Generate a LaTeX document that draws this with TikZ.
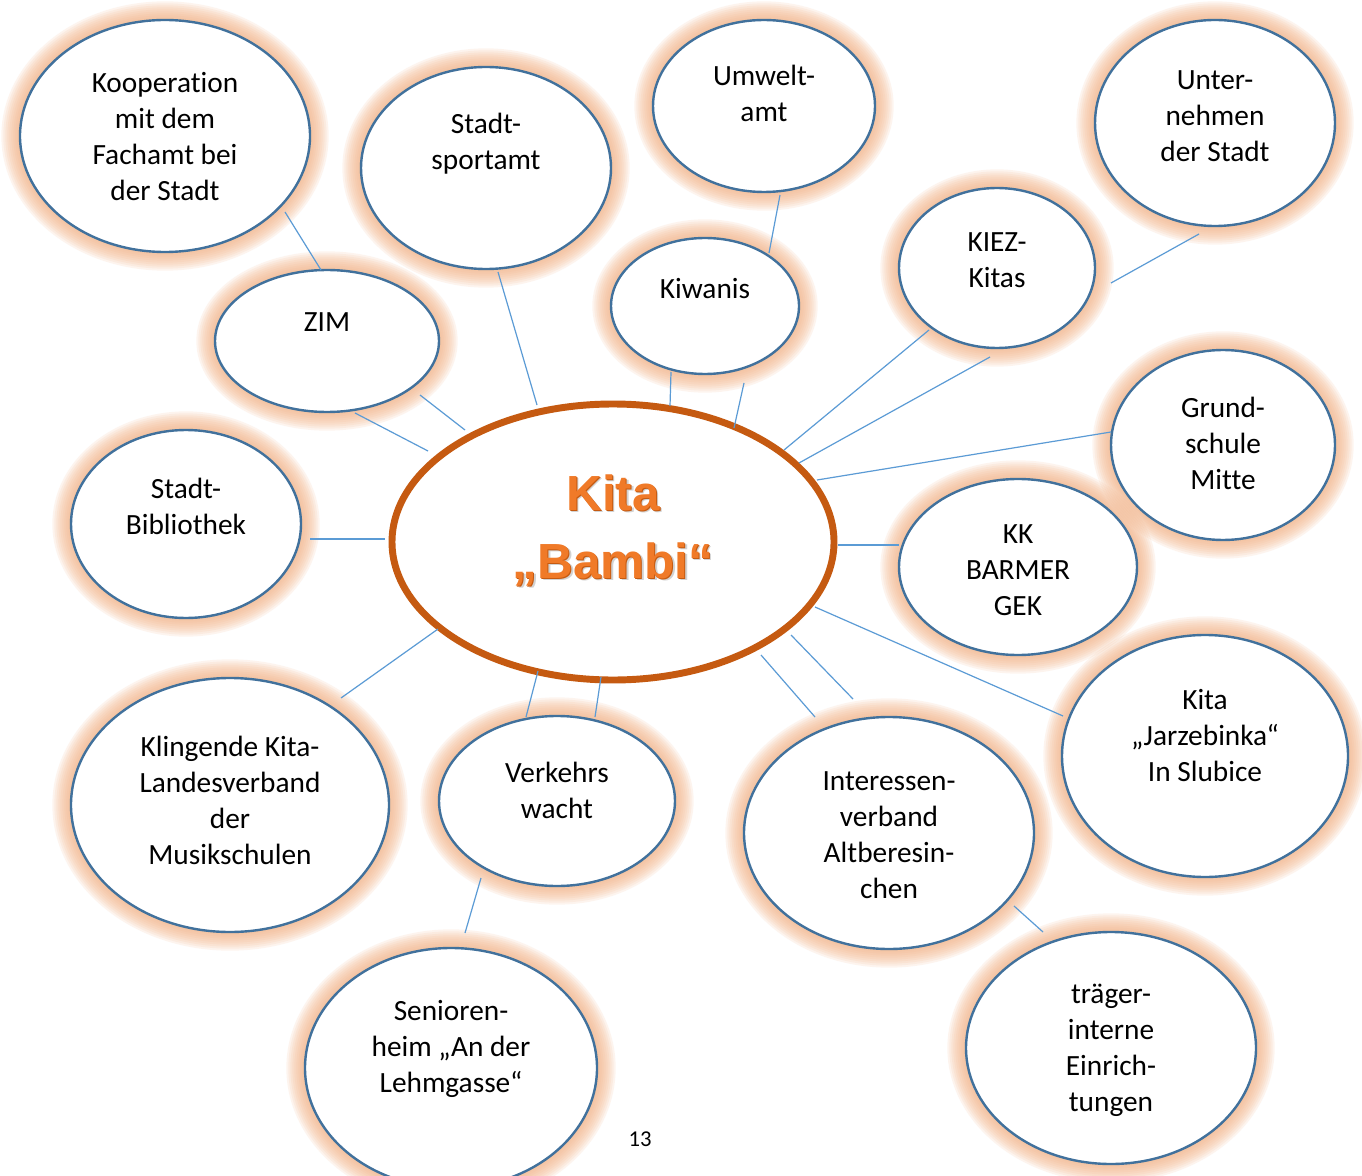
\documentclass[tikz,border=0pt]{standalone}
\usepackage{fontspec}
\setmainfont{Carlito}[Ligatures=CommonOff]
\newfontfamily\titlefont{Liberation Sans}
\usetikzlibrary{shapes.geometric}
\definecolor{bubborder}{HTML}{41719C}
\definecolor{glowc}{HTML}{F4B183}
\definecolor{linkc}{HTML}{5B9BD5}
\definecolor{hubc}{HTML}{C55A11}
\definecolor{titlec}{HTML}{F07A28}
\definecolor{titledark}{HTML}{C55A11}
\tikzset{
  bub/.style={ellipse, draw=bubborder, line width=1.8pt, fill=white, inner sep=0pt, outer sep=0pt},
  glow/.style={draw=glowc},
  txt/.style={align=center, font=\fontsize{22}{27}\selectfont, inner sep=0pt},
  link/.style={draw=linkc, line width=0.9pt},
}
\newcommand{\bubble}[7]{%
  \foreach \w in {28,25,22,19,16,13,10,7,4}{%
    \draw[glow, line width=\w pt, opacity=0.13] (#2,#3) ellipse [x radius=#4, y radius=#5];}
  \node[bub, minimum width=1.5*#4 pt, minimum height=1.5*#5 pt] (#1) at (#2,#3) {};
  \node[txt] (#1t) at (#2,#6) {#7};
}
\begin{document}
\begin{tikzpicture}[x=0.75pt,y=-0.75pt]
\useasboundingbox (0,0) rectangle (1362,1176);
\fill[white] (0,0) rectangle (1362,1176);

% bubbles
\bubble{koop}{165}{136}{145}{116}{137}{Kooperation\\mit dem\\Fachamt bei\\der Stadt}
\bubble{sport}{486}{168}{125}{101}{144}{Stadt-\\sportamt}
\bubble{umwelt}{764}{106}{111}{86}{93}{Umwelt-\\amt}
\bubble{unter}{1215}{123}{120}{103}{116}{Unter-\\nehmen\\der Stadt}
\bubble{zim}{327}{341}{112}{71}{322}{ZIM}
\bubble{kiwanis}{705}{306}{94}{68}{289}{Kiwanis}
\bubble{kiez}{997}{268}{98}{80}{260}{KIEZ-\\Kitas}
\bubble{grund}{1223}{445}{112}{95}{443}{Grund-\\schule\\Mitte}
\bubble{biblio}{186}{524}{115}{94}{506}{Stadt-\\Bibliothek}
\bubble{kk}{1018}{567}{119}{88}{570}{KK\\BARMER\\GEK}
\bubble{kling}{230}{805}{159}{127}{800}{Klingende Kita-\\Landesverband\\der\\Musikschulen}
\bubble{verkehr}{557}{801}{118}{85}{790}{Verkehrs\\wacht}
\bubble{interessen}{889}{833}{145}{116}{835}{Interessen-\\verband\\Altberesin-\\chen}
\bubble{jarz}{1205}{756}{143}{121}{736}{Kita\\„Jarzebinka“\\In Slubice}
\bubble{senior}{451}{1068}{146}{120}{1049}{Senioren-\\heim „An der\\Lehmgasse“}
\bubble{traeger}{1111}{1048}{145}{116}{1050}{träger-\\interne\\Einrich-\\tungen}

% hub
\node[ellipse, draw=hubc, line width=5.2pt, fill=white, inner sep=0pt,
      minimum width=1.5*221pt, minimum height=1.5*138pt] (hub) at (613,542) {};
\node[align=center, font=\titlefont\bfseries\fontsize{37}{51}\selectfont, text=black!35, opacity=0.5, inner sep=0pt] (hubshadow) at (615.5,532.5) {Kita\\„Bambi“};
\node[align=center, font=\titlefont\bfseries\fontsize{37}{51}\selectfont, text=titledark, inner sep=0pt] (hubdark) at (614,531) {Kita\\„Bambi“};
\node[align=center, font=\titlefont\bfseries\fontsize{37}{51}\selectfont, text=titlec, inner sep=0pt] (hubt) at (613,530) {Kita\\„Bambi“};

% connector end points
\coordinate (c1a) at (285,212); \coordinate (c1b) at (321,270);
\coordinate (c2a) at (420,395); \coordinate (c2b) at (465,430);
\coordinate (c3a) at (355,413); \coordinate (c3b) at (428,451);
\coordinate (c4a) at (498,272); \coordinate (c4b) at (537,405);
\coordinate (c5a) at (780,195); \coordinate (c5b) at (769,253);
\coordinate (c6a) at (671,372); \coordinate (c6b) at (670,406);
\coordinate (c7a) at (744,383); \coordinate (c7b) at (734,428);
\coordinate (c8a) at (929,330); \coordinate (c8b) at (784,450);
\coordinate (c9a) at (990,357); \coordinate (c9b) at (799,463);
\coordinate (c10a) at (1199,234); \coordinate (c10b) at (1111,283);
\coordinate (c11a) at (1111,432); \coordinate (c11b) at (817,480);
\coordinate (c12a) at (310,539); \coordinate (c12b) at (385,539);
\coordinate (c13a) at (838,545); \coordinate (c13b) at (899,545);
\coordinate (c14a) at (341,698); \coordinate (c14b) at (438,629);
\coordinate (c15a) at (538,671); \coordinate (c15b) at (526,717);
\coordinate (c16a) at (601,677); \coordinate (c16b) at (595,717);
\coordinate (c17a) at (761,655); \coordinate (c17b) at (815,717);
\coordinate (c18a) at (791,635); \coordinate (c18b) at (853,699);
\coordinate (c19a) at (815,607); \coordinate (c19b) at (1063,716);
\coordinate (c20a) at (481,878); \coordinate (c20b) at (465,933);
\coordinate (c21a) at (1014,906); \coordinate (c21b) at (1043,932);

\foreach \i in {1,...,21}{\draw[link] (c\i a) -- (c\i b);}

% page number
\node[font=\fontsize{17}{20}\selectfont, inner sep=0pt] (pagenum) at (640,1139) {13};
\end{tikzpicture}
\end{document}
